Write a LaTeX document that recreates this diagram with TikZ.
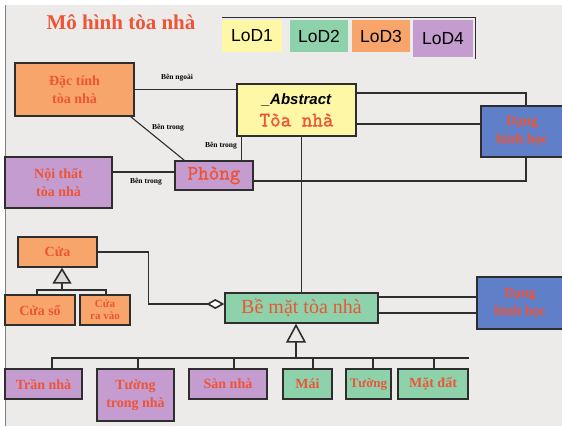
\documentclass[tikz,border=0pt]{standalone}
\usepackage{fontspec}
\setmainfont{Liberation Serif}
\setsansfont{Liberation Sans}
\setmonofont[FakeBold=1.6]{Latin Modern Mono}
\usepackage{tikz}
\usetikzlibrary{arrows.meta}

\definecolor{bgpaper}{HTML}{ECEBE9}
\definecolor{lodyellow}{HTML}{FDF7A6}
\definecolor{lodgreen}{HTML}{8ED2AC}
\definecolor{lodorange}{HTML}{F8A56C}
\definecolor{lodpurple}{HTML}{C59CCF}
\definecolor{geoblue}{HTML}{5F80C8}
\definecolor{labelred}{HTML}{EE5436}
\definecolor{linegray}{HTML}{2E2E2E}

\begin{document}
\begin{tikzpicture}[x=1pt, y=-1pt]
    \tikzstyle{box} = [draw=linegray, line width=1.3pt, rectangle, inner sep=1pt, align=center, text=labelred, font=\bfseries\fontsize{14}{18}\selectfont];
    \tikzstyle{lod-key} = [rectangle, inner sep=0pt, font=\sffamily\fontsize{17.5}{20}\selectfont];
    \tikzstyle{link} = [draw=linegray, line width=1.1pt];
    \tikzstyle{inherit} = [link, -{Triangle[length=19pt, width=20pt, line width=1.6pt, fill=bgpaper]}];
    \tikzstyle{inherit-door} = [link, -{Triangle[length=16pt, width=19pt, line width=1.6pt, fill=gray!30]}];
    \tikzstyle{aggregate} = [link, -{Diamond[length=18pt, width=10pt, line width=1.6pt, fill=white]}];
    \tikzstyle{role} = [inner sep=0pt, font=\bfseries\fontsize{7.5}{8}\selectfont];

    \useasboundingbox (0,0) rectangle (562,426);
    \fill [bgpaper] (5,5) rectangle (562,426);
    \draw [gray, line width=1pt] (5,5) -- (5,426);

    % title and legend
    \node [text=labelred, font=\bfseries\fontsize{21}{24}\selectfont] (title) at (121,22) {Mô hình tòa nhà};
    \node [lod-key, fill=lodyellow, minimum width=60pt, minimum height=32pt] (lod-1) at (252,36) {LoD1};
    \node [lod-key, fill=lodgreen,  minimum width=58pt, minimum height=32pt] (lod-2) at (319,36) {LoD2};
    \node [lod-key, fill=lodorange, minimum width=58pt, minimum height=32pt] (lod-3) at (381,36) {LoD3};
    \node [lod-key, fill=lodpurple, minimum width=60pt, minimum height=37pt] (lod-4) at (443,38.5) {LoD4};
    \draw [link, line width=1.3pt] ([yshift=2pt]lod-1.north west) -| ([xshift=2pt,yshift=-2pt]lod-4.south east);

    % upper part
    \node [box, fill=lodorange, minimum width=119pt, minimum height=53pt] (datinh) at (74.5,89.5) {Đặc tính\\tòa nhà};
    \node [box, fill=lodyellow, minimum width=119pt, minimum height=52pt, font=\fontsize{20.5}{22}\selectfont] (abstract) at (296.5,110)
        {{\color{black}\sffamily\bfseries\itshape\fontsize{15}{17}\selectfont\_Abstract}\\\ttfamily Tòa nhà};
    \node [box, fill=geoblue, minimum width=82pt, minimum height=51pt] (dang-a) at (522,131.5) {Dạng\\hình học};
    \node [box, fill=lodpurple, minimum width=78pt, minimum height=29pt, font=\ttfamily\fontsize{20.5}{22}\selectfont] (phong) at (214,175.5) {Phòng};
    \node [box, fill=lodpurple, minimum width=107pt, minimum height=51pt] (noithat) at (58.5,182.5) {Nội thất\\tòa nhà};

    \node [role] (role-out)  at (177,78)  {Bên ngoài};
    \node [role] (role-in-a) at (168,128) {Bên trong};
    \node [role] (role-in-b) at (221,146) {Bên trong};
    \node [role] (role-in-c) at (146,182) {Bên trong};

    \coordinate (abs-room)  at ([xshift=5pt]abstract.south west);
    \coordinate (abs-top)   at ([yshift=17pt]abstract.east);
    \coordinate (abs-geo)   at ([yshift=-14pt]abstract.east);
    \coordinate (room-geo)  at ([yshift=-5.5pt]phong.east);
    \coordinate (room-west) at ([yshift=3.5pt]phong.west);

    \draw [link] (datinh.east) -- (datinh.east -| abstract.west);
    \draw [link] ([xshift=-4pt]datinh.south east) -- ([xshift=10pt]phong.north west);
    \draw [link] (abs-room) -- (abs-room |- phong.north);
    \draw [link] (room-west) -- (room-west -| noithat.east);
    \draw [link] (abs-top) -| ([xshift=4pt]dang-a.north);
    \draw [link] (abs-geo) -- (abs-geo -| dang-a.west);
    \draw [link] (room-geo) -| ([xshift=4pt]dang-a.south);

    % doors
    \node [box, fill=lodorange, minimum width=79pt, minimum height=30pt] (cua) at (57.5,252) {Cửa};
    \node [box, fill=lodorange, minimum width=70pt, minimum height=30pt] (cua-so) at (40,310) {Cửa sổ};
    \node [box, fill=lodorange, minimum width=50pt, minimum height=30pt, font=\bfseries\fontsize{11}{12.5}\selectfont] (cua-ra-vao) at (105,310) {Cửa\\ra vào};
    \coordinate (door-bar) at (62,290);
    \draw [inherit-door] (door-bar) -- (door-bar |- cua.south);
    \draw [link] ([xshift=-3pt]cua-so.north) |- (door-bar) -| ([xshift=1pt]cua-ra-vao.north);

    % surfaces
    \node [box, fill=lodgreen, minimum width=153pt, minimum height=30pt, font=\fontsize{20}{22}\selectfont] (be-mat) at (301.5,308) {Bề mặt tòa nhà};
    \node [box, fill=geoblue, minimum width=86pt, minimum height=52pt] (dang-b) at (520,303) {Dạng\\hình học};
    \draw [link] (be-mat.north) -- (be-mat.north |- abstract.south);
    \draw [aggregate] (cua.east) -- ++(51,0) |- ([yshift=4pt]be-mat.west);

    \coordinate (surf-geo-a) at ([yshift=11pt]be-mat.east);
    \coordinate (surf-geo-b) at ([yshift=-5pt]be-mat.east);
    \draw [link] (surf-geo-a) -- (surf-geo-a -| dang-b.west);
    \draw [link] (surf-geo-b) -- (surf-geo-b -| dang-b.west);

    \node [box, fill=lodpurple, minimum width=77pt, minimum height=30pt] (tran)        at (43.5,384)  {Trần nhà};
    \node [box, fill=lodpurple, minimum width=77pt, minimum height=52pt] (tuong-trong) at (135.5,395) {Tường\\trong nhà};
    \node [box, fill=lodpurple, minimum width=78pt, minimum height=30pt] (san)         at (228,384)   {Sàn nhà};
    \node [box, fill=lodgreen,  minimum width=49pt, minimum height=30pt] (mai)         at (307.5,384) {Mái};
    \node [box, fill=lodgreen,  minimum width=45pt, minimum height=30pt, font=\bfseries\fontsize{13}{15}\selectfont] (tuong) at (368.5,384) {Tường};
    \node [box, fill=lodgreen,  minimum width=70pt, minimum height=30pt] (mat-dat)     at (433,384)   {Mặt đất};

    \coordinate (surf-bar)     at (296,358);
    \coordinate (surf-bar-end) at (469,358);
    \draw [inherit] (surf-bar) -- (surf-bar |- be-mat.south);
    \draw [link] ([xshift=8.5pt]tran.north) |- (surf-bar-end);
    \foreach \kid/\dx in {tuong-trong/2.5, san/6, mai/5.5, tuong/4.5, mat-dat/1} {
        \coordinate (kid-top) at ([xshift=\dx pt]\kid.north);
        \draw [link] (kid-top) -- (kid-top |- surf-bar);
    }
\end{tikzpicture}
\end{document}
